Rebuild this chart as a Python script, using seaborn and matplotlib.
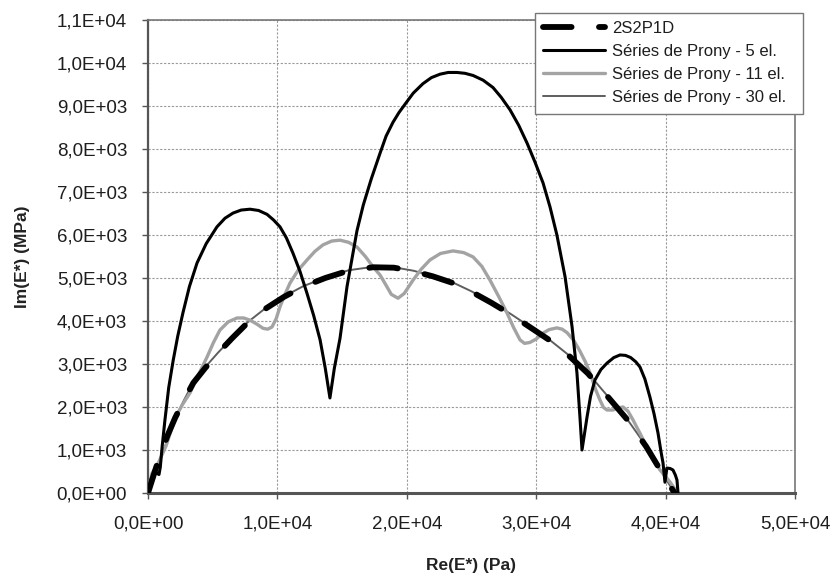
import numpy as np
import pandas as pd
import matplotlib
matplotlib.use("Agg")
import matplotlib.pyplot as plt
import seaborn as sns
from matplotlib.ticker import FuncFormatter, MultipleLocator

# Cole-Cole plane: Im(E*) against Re(E*)
re_2s2p1d = [0, 400, 900, 1500, 2100, 2800, 3500, 4400, 5400, 6500, 7700, 9000,
             10500, 12000, 13700, 15500, 17400, 19000, 20500, 22000, 23600, 25000,
             26500, 28000, 29500, 31000, 32500, 34000, 35500, 37000, 38500, 39500,
             40200, 40700]
im_2s2p1d = [0, 380, 850, 1330, 1750, 2170, 2560, 2900, 3250, 3600, 3960, 4270,
             4560, 4800, 5000, 5170, 5250, 5240, 5160, 5040, 4880, 4680,
             4430, 4160, 3860, 3560, 3200, 2780, 2250, 1720, 1080, 580,
             230, 0]

re_prony5 = [0, 250, 550, 850, 950, 1100, 1310, 1600, 1950, 2300, 2700, 3200,
             3790, 4500, 5330, 5950, 6570, 7200, 7880, 8550, 9200, 9700,
             10200, 10700, 11200, 11750, 12280, 12800, 13300, 13700, 14060, 14400,
             14840, 15380, 16150, 16640, 17250, 17930, 18400, 18930, 19400, 19860,
             20500, 21250, 21900, 22570, 23200, 23880, 24500, 25120, 25900, 26660,
             27300, 27980, 28650, 29290, 29900, 30530, 31070, 31600, 32230, 32770,
             33150, 33380, 33540, 33930, 34200, 34540, 35000, 35470, 36000, 36480,
             36900, 37300, 37700, 38020, 38400, 38790, 39100, 39410, 39650, 39800,
             39950, 40100, 40350, 40570, 40750, 40880, 40960]
im_prony5 = [0, 330, 480, 430, 600, 1100, 1700, 2450, 3090, 3650, 4190, 4800,
             5350, 5800, 6190, 6390, 6510, 6580, 6600, 6570, 6480, 6350,
             6190, 5930, 5580, 5150, 4650, 4130, 3560, 2900, 2210, 2900,
             3600, 4800, 6100, 6700, 7300, 7900, 8300, 8620, 8850, 9040,
             9300, 9520, 9660, 9740, 9780, 9780, 9760, 9710, 9600, 9430,
             9200, 8910, 8550, 8140, 7700, 7210, 6650, 6000, 5030, 3870,
             2790, 1770, 1000, 1770, 2250, 2630, 2870, 3020, 3150, 3210,
             3200, 3150, 3050, 2930, 2650, 2230, 1850, 1400, 950, 700,
             250, 580, 570, 535, 420, 300, 0]

re_prony11 = [0, 300, 800, 1400, 2090, 2650, 3250, 3900, 4560, 5060, 5560, 6200,
              6880, 7400, 7880, 8400, 8890, 9250, 9580, 9900, 10200, 10600,
              10970, 11600, 12290, 12900, 13520, 14200, 14840, 15500, 16150, 16800,
              17390, 17930, 18400, 18800, 19320, 19800, 20480, 21100, 21790, 22600,
              23570, 24400, 25120, 25800, 26430, 27100, 27740, 28250, 28750, 29100,
              29500, 30000, 30530, 31000, 31600, 32000, 32380, 32900, 33380, 33800,
              34160, 34600, 34930, 35200, 35470, 35940, 36300, 36710, 37100, 37480,
              38000, 38560, 39100, 39570, 40000, 40340, 40880]
im_prony11 = [0, 450, 700, 1100, 1740, 2050, 2330, 2750, 3160, 3500, 3790, 3980,
              4070, 4070, 4020, 3930, 3830, 3810, 3860, 4050, 4330, 4630,
              4880, 5180, 5420, 5620, 5770, 5860, 5880, 5830, 5720, 5500,
              5260, 5070, 4830, 4620, 4530, 4640, 4950, 5200, 5420, 5570,
              5630, 5590, 5490, 5270, 4950, 4570, 4190, 3850, 3560, 3480,
              3500, 3580, 3720, 3800, 3840, 3810, 3730, 3550, 3300, 3050,
              2790, 2400, 2160, 1990, 1930, 1930, 1980, 2000, 1900, 1700,
              1400, 1070, 780, 535, 380, 256, 20]

re_prony30 = [0, 300, 700, 1200, 1700, 2100, 2800, 3500, 4400, 5400, 6500, 7700,
              9000, 10500, 12000, 13700, 15500, 17400, 19000, 20500, 22000, 23600,
              25000, 26500, 28000, 29500, 31000, 32500, 34000, 35500, 37000, 38500,
              39500, 40200, 40700]
im_prony30 = [0, 420, 600, 1000, 1400, 1730, 2170, 2570, 2920, 3260, 3610, 3970,
              4280, 4570, 4810, 5010, 5180, 5260, 5250, 5170, 5050, 4890,
              4690, 4440, 4170, 3870, 3570, 3210, 2790, 2260, 1730, 1090,
              590, 240, 0]

series_labels = ["2S2P1D", "Séries de Prony - 5 el.",
                 "Séries de Prony - 11 el.", "Séries de Prony - 30 el."]

sns.set_style("white")
plt.rcParams["font.family"] = ["Liberation Sans", "DejaVu Sans"]

fig = plt.figure(figsize=(8.35, 5.79), dpi=100)
ax = fig.add_axes([148 / 835, 1 - 493 / 579, 647 / 835, 473 / 579])

curves = [
    (re_2s2p1d, im_2s2p1d, "black", 4.2, 5),
    (re_prony5, im_prony5, "black", 2.2, 6),
    (re_prony11, im_prony11, "#a3a3a3", 2.4, 4),
    (re_prony30, im_prony30, "#5e5e5e", 1.4, 3),
]
for (xs, ys, col, lw, z), lab in zip(curves, series_labels):
    df = pd.DataFrame({"re": xs, "im": ys})
    sns.lineplot(data=df, x="re", y="im", sort=False, estimator=None,
                 color=col, linewidth=lw, label=lab, ax=ax, legend=False,
                 zorder=z)

handles = list(ax.lines[:4])
for ln in handles:
    ln.set_solid_joinstyle("round")
dash_line = handles[0]
dash_line.set_dashes([4.9, 4.7])
dash_line.set_dash_capstyle("round")

ax.set_xlim(0, 50000)
ax.set_ylim(0, 11000)
ax.xaxis.set_major_locator(MultipleLocator(10000))
ax.yaxis.set_major_locator(MultipleLocator(1000))
fmt = FuncFormatter(lambda v, pos: ("%.1E" % v).replace(".", ","))
ax.xaxis.set_major_formatter(fmt)
ax.yaxis.set_major_formatter(fmt)

ax.grid(True, color="#9a9a9a", linestyle=(0, (2, 1.5)), linewidth=0.8)
ax.set_axisbelow(True)

for side in ["left", "bottom"]:
    ax.spines[side].set_color("#555555")
    ax.spines[side].set_linewidth(1.6)
for side in ["top", "right"]:
    ax.spines[side].set_color("#777777")
    ax.spines[side].set_linewidth(1.2)
ax.spines["bottom"].set_linewidth(2.2)

ax.tick_params(axis="both", which="major", direction="out", length=4,
               width=1, color="#555555", labelsize=13.5, labelcolor="#1e1e1e",
               left=True, bottom=True)
ax.tick_params(axis="y", pad=11)
ax.tick_params(axis="x", pad=12)

label_font = {"family": ["Liberation Sans Narrow", "Liberation Sans"],
              "weight": "bold", "size": 12.5, "color": "#222222"}
ax.set_xlabel("Re(E*) (Pa)", fontdict=label_font)
ax.set_ylabel("Im(E*) (MPa)", fontdict=label_font)
ax.xaxis.set_label_coords(0.5, -0.138)
ax.yaxis.set_label_coords(-0.183, 0.5)

leg = ax.legend(handles=handles, labels=series_labels,
                loc="upper left", mode="expand",
                bbox_to_anchor=(535 / 835, 1 - 105 / 579, 268 / 835, 92 / 579),
                bbox_transform=fig.transFigure, borderaxespad=0,
                fontsize=12, frameon=True, fancybox=False, framealpha=1,
                edgecolor="#777777", handlelength=3.7, handletextpad=0.45,
                labelspacing=0.48, borderpad=0.5)
leg.get_frame().set_linewidth(1.0)
leg.set_zorder(10)
for t in leg.get_texts():
    t.set_color("#1e1e1e")

fig.savefig("out.png", dpi=100, facecolor="white")
